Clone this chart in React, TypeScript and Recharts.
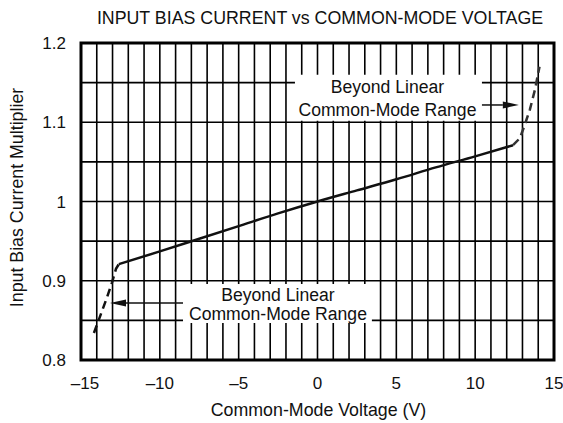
import React from 'react';
import { LineChart, Line, XAxis, YAxis, CartesianGrid, ReferenceArea, ReferenceLine } from 'recharts';

const FONT = '"Liberation Sans", Arial, Helvetica, sans-serif';

const xTicks = [-15, -14, -13, -12, -11, -10, -9, -8, -7, -6, -5, -4, -3, -2, -1, 0, 1, 2, 3, 4, 5, 6, 7, 8, 9, 10, 11, 12, 13, 14, 15];
const yTicks = [0.8, 0.85, 0.9, 0.95, 1, 1.05, 1.1, 1.15, 1.2];
const xLabelTicks = [-15, -10, -5, 0, 5, 10, 15];
const yLabelTicks = [0.8, 0.9, 1, 1.1, 1.2];

// Common-mode voltage (V) and bias current multiplier
const lowDashV = [-14.18, -13.7, -13.35, -13.03, -12.78, -12.6];
const lowDashM = [0.834, 0.86, 0.879, 0.898, 0.915, 0.921];
const solidV = [-12.6, -10, -7.5, -5, -2.5, 0, 2.5, 5, 7.5, 10, 12.4];
const solidM = [0.921, 0.937, 0.953, 0.969, 0.985, 1.0, 1.014, 1.028, 1.043, 1.057, 1.071];
const highDashV = [12.4, 12.84, 13.15, 13.47, 13.79, 14.08];
const highDashM = [1.071, 1.08, 1.097, 1.116, 1.141, 1.17];

const annotLines = ['Beyond Linear', 'Common-Mode Range'];

const zip = (v: number[], m: number[]) => v.map((x, i) => ({ v: x, m: m[i] }));
const lowDash = zip(lowDashV, lowDashM);
const solid = zip(solidV, solidM);
const highDash = zip(highDashV, highDashM);

const fmtX = (v: number) => (xLabelTicks.includes(v) ? String(v).replace('-', '\u2013') : '');
const fmtY = (v: number) => (yLabelTicks.some((t) => Math.abs(t - v) < 1e-9) ? String(Number(v.toFixed(1))) : '');

const XTick = (p: any) => {
  const v = p.payload?.value;
  const label = fmtX(v);
  if (!label) return null;
  const shift = v === xLabelTicks[0] ? 4 : 0;
  return (
    <text x={p.x + shift} y={p.y} dy="0.71em" textAnchor="middle" fontSize={17} fontFamily={FONT} fill="#111">
      {label}
    </text>
  );
};

const makeBoxText = (offsets: number[], dx: number) => (props: any) => {
  const vb = props.viewBox || {};
  const cx = vb.x + vb.width / 2 + dx;
  return (
    <g>
      {annotLines.map((t, i) => (
        <text key={i} x={cx} y={vb.y + offsets[i]} textAnchor="middle" fontSize={17.6} fontFamily={FONT} fill="#111">
          {t}
        </text>
      ))}
    </g>
  );
};

const Arrow = (p: any) => {
  const { x1, y1, x2, y2 } = p;
  const dx = x2 - x1;
  const dy = y2 - y1;
  const len = Math.sqrt(dx * dx + dy * dy) || 1;
  const ux = dx / len;
  const uy = dy / len;
  const hl = 16;
  const hw = 3.5;
  const bx = x2 - ux * hl;
  const by = y2 - uy * hl;
  return (
    <g>
      <line x1={x1} y1={y1} x2={bx} y2={by} stroke="#111" strokeWidth={1.5} />
      <polygon
        points={`${x2},${y2} ${bx - uy * hw},${by + ux * hw} ${bx + uy * hw},${by - ux * hw}`}
        fill="#111"
      />
    </g>
  );
};

export default function App() {
  return (
    <div style={{ position: 'absolute', left: 0, top: 0, width: 563, height: 423, fontFamily: FONT }}>
      <div
        style={{
          position: 'absolute',
          left: 320,
          top: 8,
          transform: 'translateX(-50%)',
          whiteSpace: 'nowrap',
          fontSize: 17.8,
          lineHeight: '21px',
          color: '#111',
        }}
      >
        INPUT BIAS CURRENT vs COMMON-MODE VOLTAGE
      </div>
      <LineChart width={563} height={423} margin={{ top: 43, right: 9, bottom: 0, left: 0 }}>
        <CartesianGrid stroke="#000" strokeWidth={1.6} />
        <XAxis
          type="number"
          dataKey="v"
          domain={[-15, 15]}
          ticks={xTicks}
          interval={0}
          tickFormatter={fmtX}
          axisLine={false}
          tickLine={false}
          tickSize={0}
          tickMargin={17}
          height={63}
          allowDataOverflow
          tick={<XTick />}
          label={{
            content: (p: any) => {
              const vb = p.viewBox || {};
              return (
                <text x={vb.x + vb.width / 2 + 1} y={416} textAnchor="middle" fontSize={17.8} fontFamily={FONT} fill="#111">
                  Common-Mode Voltage (V)
                </text>
              );
            },
          }}
        />
        <YAxis
          type="number"
          dataKey="m"
          domain={[0.8, 1.2]}
          ticks={yTicks}
          interval={0}
          tickFormatter={fmtY}
          axisLine={false}
          tickLine={false}
          tickSize={0}
          tickMargin={15}
          width={81}
          allowDataOverflow
          tick={{ fill: '#111', fontSize: 17, fontFamily: FONT }}
          label={{
            content: (p: any) => {
              const vb = p.viewBox || {};
              const cy = vb.y + vb.height / 2 - 4;
              return (
                <text
                  x={17}
                  y={cy}
                  transform={`rotate(-90 17 ${cy})`}
                  textAnchor="middle"
                  dominantBaseline="central"
                  fontSize={17.8}
                  fontFamily={FONT}
                  fill="#111"
                >
                  Input Bias Current Multiplier
                </text>
              );
            },
          }}
        />
        <ReferenceArea
          x1={-1.43}
          x2={10.43}
          y1={1.102}
          y2={1.16}
          fill="#fff"
          fillOpacity={1}
          stroke="none"
          label={makeBoxText([18.6, 41.3], -1)}
        />
        <ReferenceArea
          x1={-8.53}
          x2={3.45}
          y1={0.8467}
          y2={0.8959}
          fill="#fff"
          fillOpacity={1}
          stroke="none"
          label={makeBoxText([17, 36], 0.5)}
        />
        <ReferenceLine segment={[{ x: 10.43, y: 1.1218 }, { x: 12.77, y: 1.1218 }]} shape={Arrow} />
        <ReferenceLine segment={[{ x: -8.53, y: 0.872 }, { x: -13.16, y: 0.872 }]} shape={Arrow} />
        <ReferenceArea x1={-15} x2={15} y1={0.8} y2={1.2} fill="none" stroke="#000" strokeWidth={3} />
        <Line data={lowDash} dataKey="m" type="linear" stroke="#111" strokeWidth={2.5} strokeDasharray="8 5" dot={false} isAnimationActive={false} />
        <Line data={solid} dataKey="m" type="monotone" stroke="#111" strokeWidth={2.5} dot={false} isAnimationActive={false} />
        <Line data={highDash} dataKey="m" type="linear" stroke="#333" strokeWidth={2.5} strokeDasharray="8 5" dot={false} isAnimationActive={false} />
      </LineChart>
    </div>
  );
}
